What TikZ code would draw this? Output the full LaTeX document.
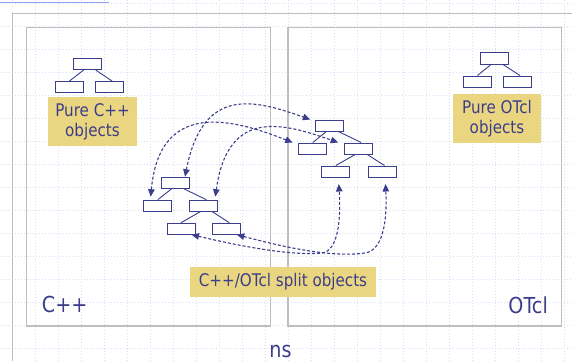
\documentclass[tikz,border=0pt]{standalone}
\usepackage{fontspec}
\setmainfont[FakeStretch=0.87]{DejaVu Sans}
\usetikzlibrary{positioning,arrows.meta}
\definecolor{nsblue}{RGB}{60,62,140}
\definecolor{nsyellow}{RGB}{234,214,128}
\definecolor{nsgrid}{RGB}{214,222,247}
\definecolor{nsframe}{RGB}{190,190,190}
\definecolor{nsbar}{RGB}{150,165,240}

\begin{document}
\begin{tikzpicture}[x=1pt, y=-1pt, node distance=11pt,
    obj/.style={draw=nsblue, fill=white, line width=1pt, minimum width=28pt, minimum height=11pt, inner sep=0pt},
    tie/.style={draw=nsblue, line width=0.9pt},
    link/.style={draw=nsblue, line width=1.1pt, dash pattern=on 3pt off 2pt,
        {Triangle[length=7.5pt,width=6.5pt]}-{Triangle[length=7.5pt,width=6.5pt]}},
    tag/.style={fill=nsyellow, text=nsblue, inner sep=0pt, align=center, font=\fontsize{17.4}{20}\selectfont},
    big/.style={text=nsblue, inner sep=0pt, font=\fontsize{22}{26}\selectfont},
    pane/.style={draw=nsframe, line width=1.4pt},
    dots/.style={draw=nsgrid, line width=0.8pt, dash pattern=on 1pt off 2pt}]
    \useasboundingbox (0,0) rectangle (572,361);

    % background grid
    \foreach \i in {0,...,24}
        \draw[dots] (12.3+23*\i,0) -- (12.3+23*\i,361);
    \foreach \j in {0,...,15}
        \draw[dots] (0,3.3+23*\j) -- (572,3.3+23*\j);

    % frames
    \draw[nsbar, line width=1.5pt] (0,2.7) -- (109,2.7);
    \draw[pane] (12.3,361) -- (12.3,13.7) -- (572,13.7);
    \draw[pane] (26.7,27.3) rectangle (270.7,326);
    \draw[pane] (288,27.3) rectangle (561.5,326);

    % pure C++ objects
    \node[obj] (cpa0) at (87.2,64) {};
    \node[obj, below=of cpa0, xshift=-17.7pt] (cpa1) {};
    \node[obj, below=of cpa0, xshift=22.3pt] (cpa2) {};

    % pure OTcl objects
    \node[obj] (ota0) at (494.5,58.5) {};
    \node[obj, below=of ota0, xshift=-17pt] (ota1) {};
    \node[obj, below=of ota0, xshift=23pt] (ota2) {};

    % split objects, C++ side
    \node[obj] (sl0) at (175.2,182.7) {};
    \node[obj, below=of sl0, xshift=-17.4pt] (sl1) {};
    \node[obj, below=of sl0, xshift=28.6pt] (sl2) {};
    \node[obj, below=of sl2, xshift=-22.8pt] (sl3) {};
    \node[obj, below=of sl2, xshift=23pt] (sl4) {};

    % split objects, OTcl side
    \node[obj] (sr0) at (329.8,125.5) {};
    \node[obj, below=of sr0, xshift=-17pt] (sr1) {};
    \node[obj, below=of sr0, xshift=28.9pt] (sr2) {};
    \node[obj, below=of sr2, xshift=-22.9pt] (sr3) {};
    \node[obj, below=of sr2, xshift=23.3pt] (sr4) {};

    \foreach \a/\b in {cpa0/cpa1, ota0/ota1, sl0/sl1, sl2/sl3, sr0/sr1, sr2/sr3}
        \draw[tie] ([xshift=-3.5pt]\a.south) -- (\b.north);
    \foreach \a/\b in {cpa0/cpa2, ota0/ota2, sl0/sl2, sl2/sl4, sr0/sr2, sr2/sr4}
        \draw[tie] ([xshift=8.5pt]\a.south) -- ([xshift=2.5pt]\b.north);

    % links between the two halves
    \draw[link] ([xshift=-4.7pt]sl0.north east) .. controls (203,85) and (255,100) .. ([xshift=-5pt]sr0.north west);
    \draw[link] ([xshift=7.4pt,yshift=3pt]sl1.north west) .. controls (160,95) and (240,122) .. ([xshift=-5.6pt]sr1.north west);
    \draw[link] ([xshift=-3pt,yshift=3pt]sl2.north east) .. controls (228,106) and (285,124) .. ([xshift=-6pt]sr2.north west);
    \draw[link] ([xshift=-4pt]sl3.south east) .. controls (240,246) and (290,256) .. (322,253)
        .. controls (338,251) and (341,220) .. ([xshift=3pt,yshift=-6.5pt]sr3.south);
    \draw[link] ([xshift=-4.5pt]sl4.south east) .. controls (280,246) and (330,258) .. (365,253)
        .. controls (385,250) and (387,215) .. ([xshift=3.5pt,yshift=-6.5pt]sr4.south);

    % labels
    \node[tag, minimum width=89pt, minimum height=49pt] (cpptag) at (92.5,121.5) {Pure C++\\objects};
    \node[tag, minimum width=88pt, minimum height=49pt] (otcltag) at (497,118.5) {Pure OTcl\\objects};
    \node[tag, minimum width=186pt, minimum height=30pt] (splittag) at (283,282) {C++/OTcl split objects};
    \node[big, anchor=base west] (cpp) at (41.7,312.7) {C++};
    \node[big, anchor=base east] (otcl) at (548,313.3) {OTcl};
    \node[big, anchor=base] (ns) at (280.5,357) {ns};
\end{tikzpicture}
\end{document}
